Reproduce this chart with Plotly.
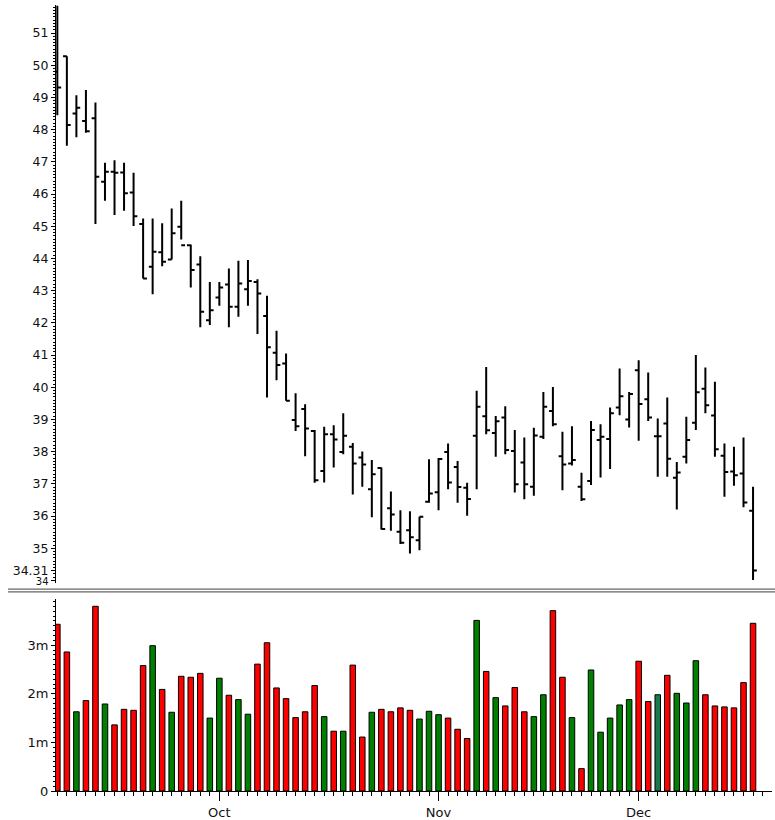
import pandas as pd
import plotly.graph_objects as go

# ---- data -------------------------------------------------------------
dates = pd.bdate_range("2007-09-06", "2007-12-19", freq="C", holidays=["2007-11-22"])

open_ = [49.80, 50.28, 48.50, 48.27, 48.35, 46.38, 46.69, 46.67, 46.05, 45.07,
         43.74, 44.19, 43.97, 44.98, 44.41, 43.81, 42.08, 42.79, 43.19, 42.50,
         43.04, 43.27, 42.21, 41.07, 40.74, 38.98, 39.32, 38.64, 37.40, 38.54,
         37.99, 38.15, 37.82, 36.83, 37.49, 36.24, 35.51, 35.56, 35.25, 36.44,
         36.74, 37.99, 37.52, 36.88, 38.49, 39.10, 38.58, 39.06, 38.02, 37.66,
         36.91, 38.46, 39.26, 37.86, 37.63, 36.91, 37.09, 38.36, 38.39, 39.37,
         39.00, 40.53, 39.63, 38.48, 38.87, 37.19, 37.84, 38.90, 39.95, 39.12,
         37.87, 37.38, 37.32, 36.16]
high = [51.85, 50.28, 49.07, 49.23, 48.84, 46.97, 47.05, 46.97, 46.66, 45.24,
        45.24, 45.09, 45.55, 45.79, 44.43, 44.07, 43.27, 43.27, 43.69, 43.93,
        43.95, 43.35, 42.84, 41.75, 41.05, 39.81, 39.47, 38.67, 38.77, 38.82,
        39.19, 38.27, 38.00, 37.74, 37.51, 36.76, 36.18, 36.15, 35.98, 37.76,
        37.80, 38.25, 37.71, 37.03, 39.89, 40.63, 39.11, 39.41, 38.67, 38.44,
        38.74, 39.85, 40.01, 38.62, 38.79, 37.34, 38.95, 38.85, 39.37, 40.58,
        39.85, 40.84, 40.46, 39.03, 39.68, 37.68, 39.08, 41.00, 40.61, 40.17,
        38.25, 38.15, 38.44, 36.91]
low = [48.45, 47.50, 47.76, 47.90, 45.07, 45.79, 45.35, 45.48, 45.01, 43.38,
       42.89, 43.76, 43.97, 44.59, 43.10, 41.86, 41.93, 42.53, 41.86, 42.19,
       42.53, 41.65, 39.68, 40.22, 39.58, 38.64, 37.86, 37.03, 37.04, 37.51,
       37.92, 36.67, 36.91, 35.96, 35.58, 35.54, 35.13, 34.84, 34.94, 36.41,
       36.18, 36.83, 36.41, 36.01, 36.83, 38.54, 37.84, 37.92, 36.73, 36.52,
       36.63, 38.39, 38.79, 36.80, 37.57, 36.47, 36.96, 37.20, 37.46, 39.13,
       38.75, 38.34, 38.95, 37.22, 37.22, 36.20, 37.63, 38.67, 39.19, 37.84,
       36.60, 36.94, 36.27, 34.01]
close = [49.31, 48.14, 48.68, 47.95, 46.54, 46.69, 46.66, 46.02, 45.31, 43.38,
         44.21, 43.90, 44.78, 44.41, 43.64, 42.34, 42.39, 43.10, 42.50, 43.22,
         43.30, 42.91, 41.24, 40.69, 39.58, 38.79, 38.72, 37.11, 38.54, 38.38,
         38.49, 37.63, 37.60, 37.30, 35.60, 36.05, 35.17, 35.34, 35.98, 36.70,
         37.77, 37.04, 36.90, 36.53, 39.39, 38.66, 38.94, 38.05, 36.99, 36.99,
         38.50, 39.39, 38.85, 37.60, 37.74, 36.52, 38.67, 38.46, 39.19, 39.72,
         39.79, 39.48, 39.06, 38.48, 37.78, 37.35, 38.36, 39.84, 39.44, 38.07,
         37.37, 37.27, 36.42, 34.31]
volume_m = [3.43, 2.86, 1.63, 1.86, 3.80, 1.79, 1.36, 1.68, 1.66, 2.58,
            2.99, 2.09, 1.62, 2.36, 2.34, 2.42, 1.50, 2.32, 1.97, 1.88,
            1.58, 2.61, 3.05, 2.12, 1.90, 1.51, 1.63, 2.17, 1.53, 1.23,
            1.23, 2.59, 1.11, 1.62, 1.68, 1.63, 1.71, 1.66, 1.48, 1.64,
            1.57, 1.50, 1.27, 1.08, 3.51, 2.46, 1.92, 1.75, 2.13, 1.63,
            1.53, 1.98, 3.71, 2.34, 1.51, 0.46, 2.49, 1.21, 1.50, 1.77,
            1.88, 2.67, 1.84, 1.98, 2.38, 2.01, 1.81, 2.68, 1.98, 1.75,
            1.73, 1.71, 2.23, 3.45]

price_ticks = [34, 35, 36, 37, 38, 39, 40, 41, 42, 43, 44, 45, 46, 47, 48, 49, 50, 51]
volume_ticks = [0, 1, 2, 3]
volume_tick_text = ["0", "1m", "2m", "3m"]

# ---- derived ---------------------------------------------------------
x = list(range(len(dates)))
month_pos, month_txt = [], []
for i in range(1, len(dates)):
    if dates[i].month != dates[i - 1].month:
        month_pos.append(i)
        month_txt.append(dates[i].strftime("%b"))

last_close = close[-1]
ptick_vals = price_ticks + [last_close]
ptick_text = [str(v) for v in price_ticks] + [f"{last_close:.2f}"]
# the axis-bottom label is squeezed under the last-price label
ptick_text[0] = f'<span style="font-size:10px">{price_ticks[0]}</span>'

UP, DOWN, FLAT = "#008000", "#FF0000", "#1A7A4C"
vol_colors = [UP if c > o else (DOWN if c < o else FLAT) for o, c in zip(open_, close)]

# ---- figure -----------------------------------------------------------
W, H = 775, 820
ml, mr, mt, mb = 56, 3, 5, 29
ph = H - mt - mb
def py(pix):  # pixel row -> paper y
    return (H - mb - pix) / ph

fig = go.Figure()
fig.add_trace(go.Ohlc(
    x=x, open=open_, high=high, low=low, close=close,
    increasing=dict(line=dict(color="black", width=2)),
    decreasing=dict(line=dict(color="black", width=2)),
    tickwidth=0.4, xaxis="x", yaxis="y", showlegend=False, hoverinfo="skip",
))
fig.add_trace(go.Bar(
    x=x, y=volume_m, width=0.58,
    marker=dict(color=vol_colors, line=dict(color="black", width=1)),
    xaxis="x2", yaxis="y2", showlegend=False, hoverinfo="skip",
))

FAM = "DejaVu Sans, Verdana, sans-serif"
font = dict(family=FAM, size=12.5, color="#111")
font2 = dict(family=FAM, size=13, color="#111")
xr = [-0.14, 74.99]

fig.update_layout(
    width=W, height=H,
    margin=dict(l=ml, r=mr, t=mt, b=mb, autoexpand=False),
    paper_bgcolor="white", plot_bgcolor="white",
    font=font, bargap=0,
    xaxis=dict(domain=[0, 1], anchor="y", matches="x2", range=xr, visible=False,
               rangeslider=dict(visible=False), showgrid=False),
    yaxis=dict(domain=[py(583), 1], range=[33.92, 51.87], showgrid=False, zeroline=False,
               showline=True, linecolor="black", linewidth=1,
               ticks="outside", ticklen=4, tickcolor="black",
               tickmode="array", tickvals=ptick_vals, ticktext=ptick_text,
               tickfont=font,
               minor=dict(dtick=0.1, tick0=0, ticks="outside", ticklen=2,
                          tickcolor="black", showgrid=False)),
    xaxis2=dict(domain=[0, 1], anchor="y2", range=xr, showgrid=False, zeroline=False,
                showline=True, linecolor="black", linewidth=1,
                ticks="outside", ticklen=9, tickcolor="black",
                tickmode="array", tickvals=month_pos, ticktext=month_txt,
                tickfont=font2,
                minor=dict(dtick=1, tick0=0, ticks="outside", ticklen=4,
                           tickcolor="black", showgrid=False)),
    yaxis2=dict(domain=[0, py(599)], range=[0, 3.95], showgrid=False, zeroline=False,
                showline=True, linecolor="black", linewidth=1,
                ticks="outside", ticklen=4, tickcolor="black",
                tickmode="array", tickvals=volume_ticks, ticktext=volume_tick_text,
                tickfont=font2,
                minor=dict(dtick=0.1, tick0=0, ticks="outside", ticklen=2,
                           tickcolor="black", showgrid=False)),
)

# panel separator (double grey line)
for yy in (589.2, 591.8):
    fig.add_shape(type="line", xref="paper", yref="paper",
                  x0=(8 - ml) / (W - ml - mr), x1=1 + mr / (W - ml - mr),
                  y0=py(yy), y1=py(yy), line=dict(color="#666666", width=1.3))

fig.write_html("out.html",
               config={"displayModeBar": False, "staticPlot": True},
               post_script="document.body.style.margin='0';document.body.style.overflow='hidden';")
